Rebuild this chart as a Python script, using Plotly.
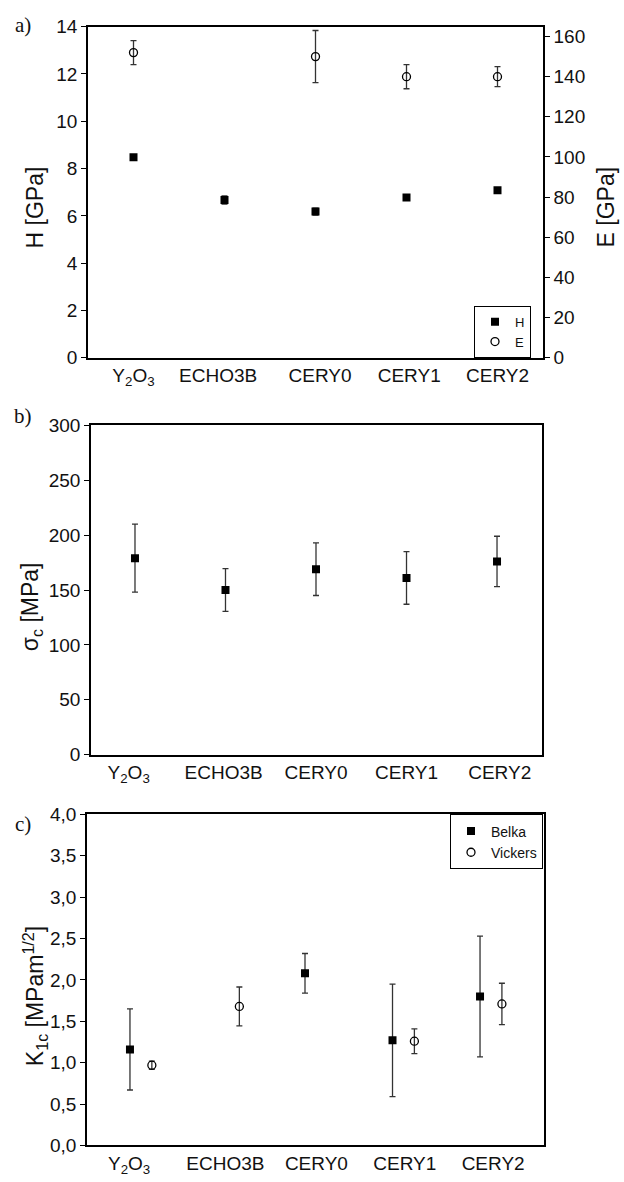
import plotly.graph_objects as go

# ---------------- data ----------------
categories = ["Y<sub>2</sub>O<sub>3</sub>", "ECHO3B", "CERY0", "CERY1", "CERY2"]

H_vals = [8.48, 6.67, 6.18, 6.78, 7.08]
H_err = [0.06, 0.17, 0.15, 0.07, 0.07]
E_vals = [152, None, 150, 140, 140]
E_err = [6, None, 13, 6, 5]

sigma_vals = [179, 150, 169, 161, 176]
sigma_err = [31, 19.5, 24, 24, 23]

belka_vals = [1.16, None, 2.08, 1.27, 1.80]
belka_err = [0.49, None, 0.24, 0.68, 0.73]
vickers_vals = [0.97, 1.68, None, 1.26, 1.71]
vickers_err = [0.05, 0.235, None, 0.15, 0.25]

k_ticks = [0.0, 0.5, 1.0, 1.5, 2.0, 2.5, 3.0, 3.5, 4.0]
k_ticktext = [f"{v:.1f}".replace(".", ",") for v in k_ticks]

# ---------------- layout helpers ----------------
W, Hh = 624, 1182
def px_x(a, b):
    return [a / W, b / W]
def px_y(top, bottom):
    return [1 - bottom / Hh, 1 - top / Hh]

FONT = "Liberation Sans"
TXT = "#111111"
idx = list(range(len(categories)))

sq = dict(symbol="square", size=8, color="black")
circ = dict(symbol="circle-open", size=8, color="black", line=dict(width=1.3, color="black"))
def eb(arr):
    return dict(type="data", array=arr, visible=True, color="#333333", thickness=1.3, width=3)

fig = go.Figure()

# panel a
fig.add_trace(go.Scatter(x=idx, y=H_vals, mode="markers", name="H", marker=sq,
                         error_y=eb(H_err), xaxis="x", yaxis="y", legend="legend"))
fig.add_trace(go.Scatter(x=idx, y=E_vals, mode="markers", name="E", marker=circ,
                         error_y=eb(E_err), xaxis="x", yaxis="y2", legend="legend"))
# panel b
fig.add_trace(go.Scatter(x=idx, y=sigma_vals, mode="markers", name="σc", marker=sq,
                         error_y=eb(sigma_err), xaxis="x2", yaxis="y3", showlegend=False))
# panel c
fig.add_trace(go.Scatter(x=idx, y=belka_vals, mode="markers", name="Belka", marker=sq,
                         error_y=eb(belka_err), xaxis="x3", yaxis="y4", legend="legend2"))
fig.add_trace(go.Scatter(x=[i + 0.25 for i in idx], y=vickers_vals, mode="markers", name="Vickers",
                         marker=circ, error_y=eb(vickers_err), xaxis="x3", yaxis="y4", legend="legend2"))

axline = dict(showline=True, linecolor="black", linewidth=1.5, showgrid=False, zeroline=False,
              tickfont=dict(family=FONT, size=19, color=TXT))
xcommon = dict(axline, ticks="", mirror=True)
ycommon = dict(axline, ticks="outside", ticklen=5, tickwidth=1.2, tickcolor="black")

fig.update_layout(
    width=W, height=Hh, margin=dict(l=0, r=0, t=0, b=0),
    paper_bgcolor="white", plot_bgcolor="white",
    font=dict(family=FONT, size=16, color=TXT),
    xaxis=dict(xcommon, domain=px_x(88, 543), anchor="y", range=[-0.5, 4.5],
               tickvals=[0, 0.93, 2.05, 3.03, 4.0], ticktext=categories),
    yaxis=dict(ycommon, domain=px_y(17, 354), anchor="x", range=[0, 14], dtick=2),
    yaxis2=dict(ycommon, overlaying="y", side="right", anchor="x", range=[0, 164.9], dtick=20),
    xaxis2=dict(xcommon, domain=px_x(91, 542), anchor="y3", range=[-0.486, 4.497],
                tickvals=[-0.07, 0.98, 2.0, 3.0, 4.03], ticktext=categories),
    yaxis3=dict(ycommon, domain=px_y(423, 758), anchor="x2", range=[0, 300], dtick=50, mirror=True),
    xaxis3=dict(xcommon, domain=px_x(87, 544), anchor="y4", range=[-0.491, 4.731],
                tickvals=[-0.01, 1.09, 2.13, 3.14, 4.15], ticktext=categories),
    yaxis4=dict(ycommon, domain=px_y(819, 1156), anchor="x3", range=[0, 4.0],
                tickvals=k_ticks, ticktext=k_ticktext, mirror=True),
    legend=dict(x=531 / W, y=1 - 354 / Hh, xanchor="right", yanchor="bottom",
                bordercolor="black", borderwidth=1, bgcolor="white",
                font=dict(family=FONT, size=13, color=TXT)),
    legend2=dict(x=543 / W, y=1 - 819 / Hh, xanchor="right", yanchor="top",
                 bordercolor="black", borderwidth=1, bgcolor="white", tracegroupgap=0,
                 font=dict(family=FONT, size=14, color=TXT)),
)

def ann(text, x, y, size=22, angle=-90, family=FONT):
    fig.add_annotation(text=text, x=x / W, y=1 - y / Hh, xref="paper", yref="paper",
                       showarrow=False, textangle=angle, xanchor="center", yanchor="middle",
                       font=dict(family=family, size=size, color=TXT))

ann("H [GPa]", 35, 201, size=23)
ann("E [GPa]", 606, 201, size=23)
ann("σ<sub>c</sub> [MPa]", 31, 607, size=23)
ann("K<sub>1c</sub> [MPam<sup>1/2</sup>]", 35, 1004, size=23)

SERIF = "Liberation Serif"
ann("a)", 23, 15, size=21, angle=0, family=SERIF)
ann("b)", 23, 413, size=21, angle=0, family=SERIF)
ann("c)", 23, 829, size=21, angle=0, family=SERIF)

fig.write_html("out.html")
